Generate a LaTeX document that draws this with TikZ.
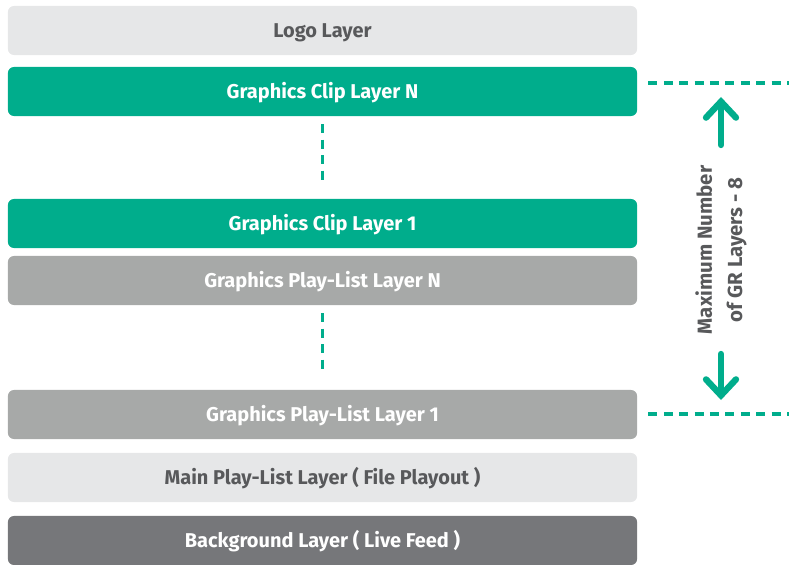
\documentclass[tikz,border=0pt]{standalone}
\usepackage{fontspec}
\setmainfont{Fira Sans}
\usetikzlibrary{arrows.meta}
\definecolor{clipgreen}{RGB}{0,173,140}
\definecolor{lightlayer}{RGB}{230,231,232}
\definecolor{midlayer}{RGB}{167,169,168}
\definecolor{darklayer}{RGB}{118,119,122}
\definecolor{labeltext}{RGB}{88,89,91}
\tikzset{
	layer/.style={rounded corners=1.5mm, minimum width=15.725cm, minimum height=1.225cm,
		font=\fontsize{14.2}{17}\selectfont\bfseries, inner sep=0pt,
		text height=10pt, text depth=0pt},
	lightbox/.style={layer, fill=lightlayer, text=labeltext},
	greenbox/.style={layer, fill=clipgreen, text=white},
	greybox/.style={layer, fill=midlayer, text=white},
	darkbox/.style={layer, fill=darklayer, text=white},
	gap/.style={clipgreen, line width=2.4pt, dash pattern=on 2.25mm off 1.6mm},
	span/.style={clipgreen, line width=4.5pt, line cap=round,
		-{Straight Barb[length=4mm, width=7.5mm, line cap=round]}}
}
\begin{document}
\begin{tikzpicture}[x=0.025cm, y=-0.025cm]
	\useasboundingbox (0,0) rectangle (789,565);
	
	\node [lightbox] (logo) at (322.5, 30.5) {Logo Layer};
	\node [greenbox] (clipN) at (322.5, 91.5) {Graphics Clip Layer N};
	\node [greenbox] (clip1) at (322.5, 223.5) {Graphics Clip Layer 1};
	\node [greybox] (listN) at (322.5, 280.5) {Graphics Play-List Layer N};
	\node [greybox] (list1) at (322.5, 414.5) {Graphics Play-List Layer 1};
	\node [lightbox] (main) at (322.5, 477.5) {Main Play-List Layer ( File Playout )};
	\node [darkbox] (bg) at (322.5, 540.5) {Background Layer ( Live Feed )};
	
	% dotted gaps between the layers
	\draw [gap] ([yshift=-2mm]clipN.south) -- ([yshift=4mm]clip1.north);
	\draw [gap] ([yshift=-2mm]listN.south) -- ([yshift=4mm]list1.north);
	
	% range of the GR layers
	\coordinate (topline) at (789, 83);
	\coordinate (botline) at (789, 414);
	\draw [gap] ([xshift=2.75mm]clipN.east |- topline) -- (topline);
	\draw [gap] ([xshift=2.75mm]list1.east |- botline) -- (botline);
	
	\node [rotate=90, align=center, text=labeltext,
		font=\fontsize{14.5}{21.5}\selectfont\bfseries] (count) at (721, 250)
		{Maximum Number\\of GR Layers - 8};
	\coordinate (upfoot) at (721, 145);
	\coordinate (uptip) at (721, 97);
	\coordinate (downfoot) at (721, 354);
	\coordinate (downtip) at (721, 400);
	\draw [span] (upfoot) -- (uptip);
	\draw [span] (downfoot) -- (downtip);
\end{tikzpicture}
\end{document}
